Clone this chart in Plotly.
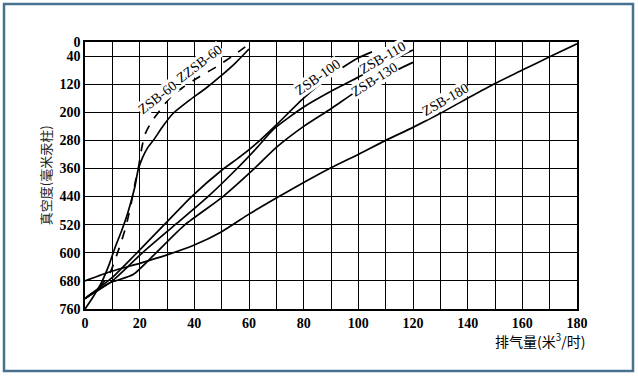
import plotly.graph_objects as go

# ---- data ----
x_zsb60 = [0, 3, 6, 9, 11, 13.5, 15.5, 17, 18.3, 19.4, 21, 23, 25, 28.5, 32, 38, 44, 49.5, 55, 60]
y_zsb60 = [760, 725, 685, 630, 585, 535, 490, 450, 410, 365, 330, 300, 280, 240, 205, 167, 133, 98, 60, 20]

x_zzsb60 = [0, 5, 9, 11, 13, 15, 17, 18.5, 19.5, 20.8, 22, 24.5, 27.5, 31, 36, 42, 48, 54, 60]
y_zzsb60 = [730, 700, 660, 620, 575, 525, 455, 395, 360, 300, 262, 225, 194, 160, 128, 98, 71, 40, 6]

x_zsb100 = [0, 10, 19, 29, 39, 50, 57, 64, 70, 80, 90, 100, 105]
y_zsb100 = [730, 670, 600, 520, 440, 365, 325, 280, 236, 160, 95, 45, 28]

x_zsb110 = [0, 10, 21, 33, 45, 55, 63, 69, 80, 90, 100, 110, 120]
y_zsb110 = [730, 680, 600, 520, 440, 365, 300, 248, 185, 140, 100, 60, 23]

x_zsb130 = [0, 9, 17.6, 26, 36.6, 50.5, 62, 70, 80, 90, 100, 110, 120]
y_zsb130 = [730, 686, 662, 600, 520, 440, 360, 300, 240, 190, 137, 95, 58]

x_zsb180 = [0, 10, 20, 30, 40, 50, 60, 70, 80, 90, 100, 110, 120, 130, 140, 150, 160, 170, 180]
y_zsb180 = [680, 652, 630, 606, 578, 540, 490, 444, 400, 358, 320, 280, 243, 203, 160, 118, 80, 42, 5]

y_ticks = [0, 40, 120, 200, 280, 360, 440, 520, 600, 680, 760]
x_ticks = [0, 20, 40, 60, 80, 100, 120, 140, 160, 180]

labels = [
    # text, x, y, angle
    ("ZSB-60", 26.5, 157, -38),
    ("ZZSB-60", 42, 62, -37),
    ("ZSB-100", 85, 100, -35),
    ("ZSB-110", 109, 43, -30),
    ("ZSB-130", 106, 108, -32),
    ("ZSB-180", 132, 165, -30),
]

fig = go.Figure()
for xs, ys, dash in [
    (x_zsb60, y_zsb60, "solid"),
    (x_zzsb60, y_zzsb60, "dash"),
    (x_zsb100, y_zsb100, "solid"),
    (x_zsb110, y_zsb110, "solid"),
    (x_zsb130, y_zsb130, "solid"),
    (x_zsb180, y_zsb180, "solid"),
]:
    fig.add_trace(go.Scatter(x=xs, y=ys, mode="lines",
                             line=dict(color="black", width=1.7, dash=dash, shape="spline", smoothing=0.6),
                             showlegend=False, hoverinfo="skip"))

for text, lx, ly, ang in labels:
    fig.add_annotation(x=lx, y=ly, text=text, showarrow=False, textangle=ang,
                       font=dict(family="Liberation Serif", size=14, color="black"),
                       bgcolor="white", borderpad=0)

tick_font = dict(family="Liberation Serif", size=14, color="black", weight="bold")
fig.update_xaxes(range=[0, 180], tickvals=x_ticks, ticktext=[str(v) for v in x_ticks],
                 showgrid=True, gridcolor="black", gridwidth=1.3,
                 minor=dict(dtick=10, tick0=0, showgrid=True, gridcolor="black", gridwidth=1.3),
                 showline=True, linecolor="black", linewidth=1.5, mirror=True,
                 ticks="", zeroline=False, tickfont=tick_font)
fig.update_yaxes(range=[760, 0], tickvals=y_ticks, ticktext=[str(v) for v in y_ticks],
                 showgrid=True, gridcolor="black", gridwidth=1.3,
                 showline=True, linecolor="black", linewidth=1.5, mirror=True,
                 ticks="", zeroline=False, tickfont=tick_font)

fig.add_annotation(xref="paper", yref="paper", x=1.02, y=-0.07, xanchor="right", yanchor="top",
                   text="排气量(米<sup>3</sup>/时)", showarrow=False,
                   font=dict(family="Noto Sans CJK SC", size=14, color="black"))
fig.add_annotation(xref="paper", yref="paper", x=-0.08, y=0.5, xanchor="center", yanchor="middle",
                   text="真空度(毫米汞柱)", showarrow=False, textangle=-90,
                   font=dict(family="Noto Sans CJK SC", size=13, color="#222222"))

# outer frame
L, R, T, B = 85, 61, 42, 67
W, H = 638 - L - R, 376 - T - B
def px(xp): return (xp - L) / W
def py(yp): return (376 - B - yp) / H
fig.add_shape(type="rect", xref="paper", yref="paper",
              x0=px(4), x1=px(633), y0=py(371), y1=py(4),
              line=dict(color="#48708f", width=2.5), layer="below")

fig.update_layout(width=638, height=376, margin=dict(l=L, r=R, t=T, b=B),
                  plot_bgcolor="white", paper_bgcolor="white")
fig.write_html("out.html", config={"displayModeBar": False},
               post_script="document.body.style.margin='0px';")
